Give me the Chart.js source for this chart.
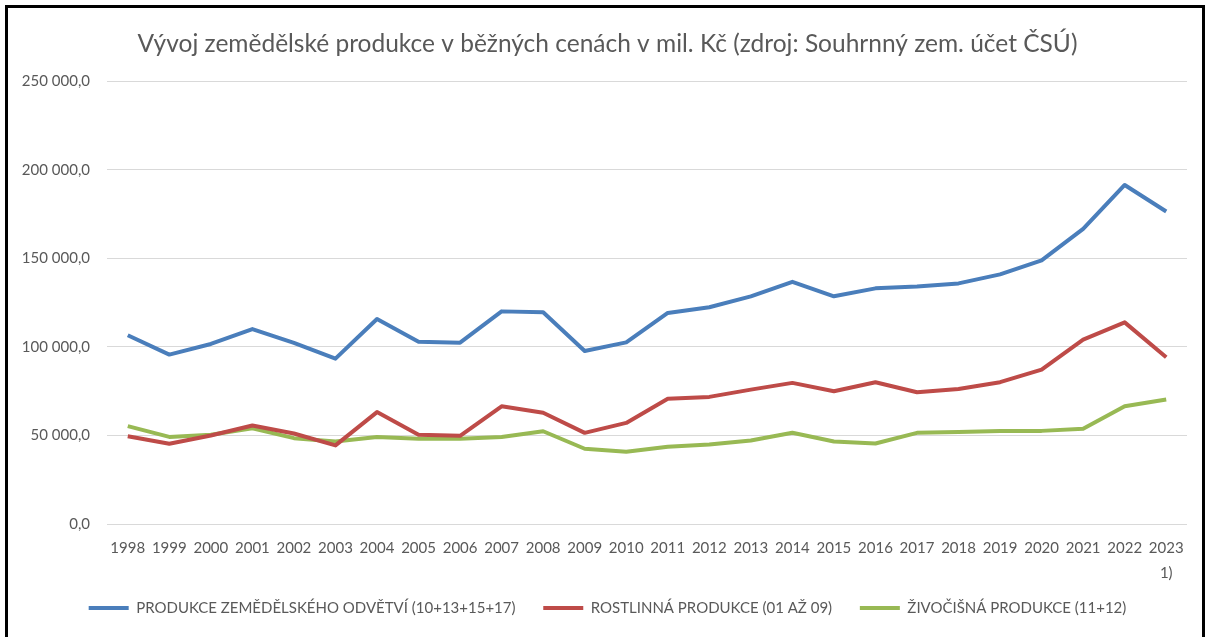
<!DOCTYPE html>
<html>
<head>
<meta charset="utf-8">
<script src="https://cdn.jsdelivr.net/npm/chart.js@4/dist/chart.umd.min.js"></script>
<style>
  html, body { margin: 0; padding: 0; background: #fff; }
  #wrap { position: relative; width: 1212px; height: 637px; overflow: hidden; }
  #frame { position: absolute; left: 5px; top: 5px; width: 1200px; height: 700px; border: 3px solid #000; box-sizing: border-box; pointer-events: none; }
  canvas { position: absolute; left: 0; top: 0; }
</style>
</head>
<body>
<div id="wrap">
  <canvas id="chart" width="1212" height="637"></canvas>
  <div id="frame"></div>
</div>
<script>
// roky (2023 = předběžné, pozn. 1)
var years = ['1998', '1999', '2000', '2001', '2002', '2003', '2004', '2005', '2006', '2007', '2008', '2009', '2010',
    '2011', '2012', '2013', '2014', '2015', '2016', '2017', '2018', '2019', '2020', '2021', '2022', ['2023', '1)']];

// mil. Kč
var produkceOdvetvi = [106600, 95700, 101700, 110100, 102300, 93400, 115800, 103000, 102400, 120100, 119600, 97700, 102600,
    119200, 122400, 128600, 136800, 128600, 133100, 134200, 135900, 141000, 148900, 166700, 191500, 176500];
var rostlinnaProdukce = [49600, 45300, 50000, 55600, 51100, 44400, 63200, 50400, 49800, 66500, 62800, 51500, 57100,
    70700, 71800, 75900, 79700, 75000, 80100, 74400, 76300, 80100, 87200, 104100, 113900, 94200];
var zivocisnaProdukce = [55300, 49200, 50400, 54100, 48500, 46600, 49200, 48100, 48100, 49200, 52400, 42500, 40800,
    43600, 44900, 47200, 51500, 46600, 45500, 51500, 51900, 52600, 52600, 53800, 66500, 70300];

var seriesNames = ['PRODUKCE ZEMĚDĚLSKÉHO ODVĚTVÍ (10+13+15+17)', 'ROSTLINNÁ PRODUKCE (01 AŽ 09)', 'ŽIVOČIŠNÁ PRODUKCE (11+12)'];
var seriesColors = ['#4A7EBB', '#BE4B48', '#98B954'];

var fmtNum = (v) => {
    var s = Math.round(v).toString().replace(/\B(?=(\d{3})+(?!\d))/g, ' ');
    return s + ',0';
};

var mkSet = (i, values) => ({
    label: seriesNames[i],
    data: values,
    borderColor: seriesColors[i],
    backgroundColor: seriesColors[i],
    borderWidth: 4,
    pointRadius: 0,
    pointStyle: 'line',
    tension: 0,
    borderJoinStyle: 'round'
});

// širší mezery mezi položkami legendy (bez změny výšky legendy)
var legendLabels = (chart) => {
    var items = Chart.defaults.plugins.legend.labels.generateLabels(chart);
    items.forEach((it, i) => {
        if (i < items.length - 1) it.text = it.text + '\u2003';
    });
    return items;
};

var textGrey = '#595959';
var baseFont = 'Lato, "Liberation Sans", sans-serif';

var ctx = document.getElementById('chart').getContext('2d');
var chart = new Chart(ctx, {
    type: 'line',
    data: {
        labels: years,
        datasets: [mkSet(0, produkceOdvetvi), mkSet(1, rostlinnaProdukce), mkSet(2, zivocisnaProdukce)]
    },
    options: {
        responsive: false,
        animation: false,
        layout: { padding: { left: 14, right: 11, top: 18, bottom: 11.5 } },
        plugins: {
            title: {
                display: true,
                text: 'Vývoj zemědělské produkce v běžných cenách v mil. Kč (zdroj: Souhrnný zem. účet ČSÚ)',
                color: textGrey,
                font: { family: baseFont, size: 24.5, weight: 'normal' },
                padding: { top: 11, bottom: 23 }
            },
            legend: {
                position: 'bottom',
                labels: {
                    usePointStyle: true,
                    pointStyleWidth: 40,
                    boxHeight: 4,
                    color: textGrey,
                    font: { family: baseFont, size: 15 },
                    padding: 16.5,
                    generateLabels: legendLabels
                }
            },
            tooltip: { enabled: false }
        },
        scales: {
            x: {
                offset: true,
                afterFit: (s) => { s.height = 60; },
                grid: { display: false, drawTicks: false },
                border: { display: false },
                ticks: {
                    color: textGrey,
                    font: { family: baseFont, size: 15, lineHeight: 1.67 },
                    maxRotation: 0,
                    autoSkip: false,
                    padding: 12
                }
            },
            y: {
                min: 0,
                max: 250000,
                afterFit: (s) => { s.width = 93; },
                grid: { color: '#d9d9d9', lineWidth: 1, drawTicks: false },
                border: { display: false },
                ticks: {
                    stepSize: 50000,
                    color: textGrey,
                    font: { family: baseFont, size: 15 },
                    padding: 17,
                    callback: (v) => fmtNum(v)
                }
            },
            // prázdný pravý okraj, aby byl nadpis posunutý jako v originále
            yPad: {
                position: 'right',
                afterFit: (s) => { s.width = 14; },
                grid: { display: false, drawTicks: false },
                border: { display: false },
                ticks: { display: false }
            }
        }
    }
});
</script>
</body>
</html>
